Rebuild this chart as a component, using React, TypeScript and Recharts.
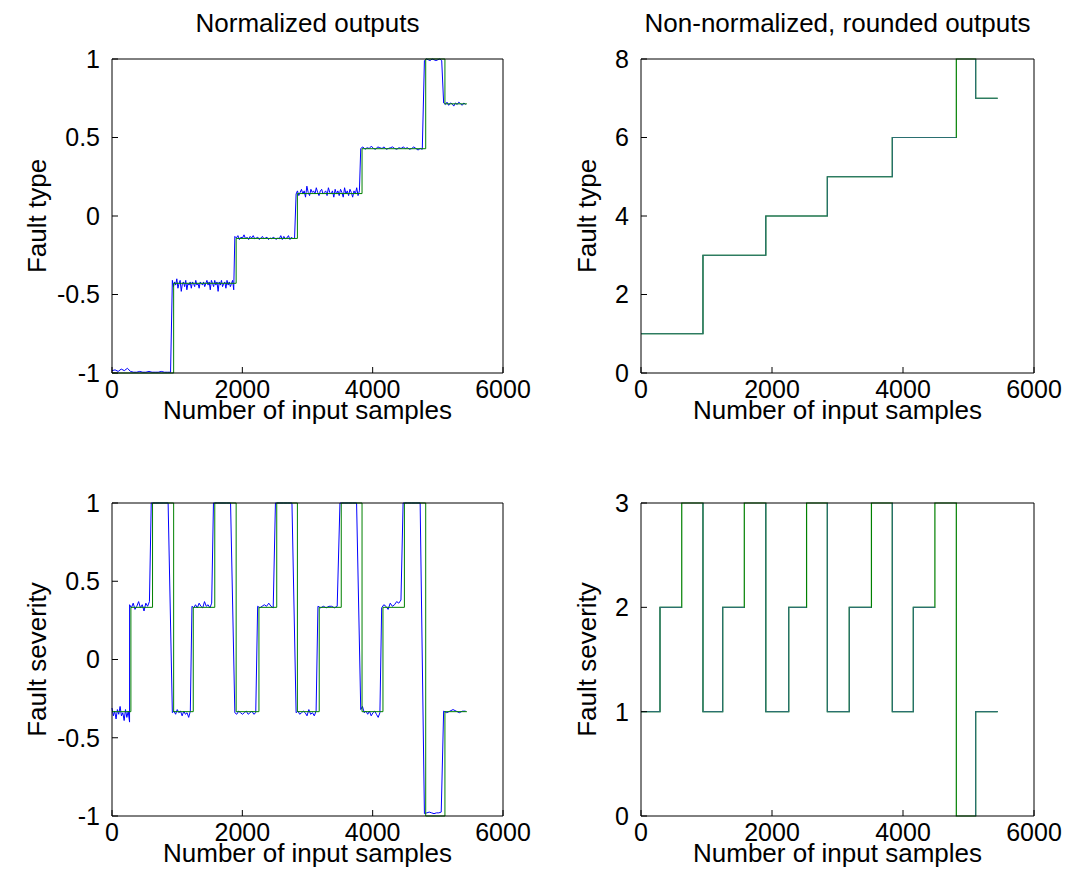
import React from 'react';
import { LineChart, Line, XAxis, YAxis } from 'recharts';

const FONT = '"Liberation Sans", Arial, Helvetica, sans-serif';

const xTicks = [0, 2000, 4000, 6000];
const normTicks = [-1, -0.5, 0, 0.5, 1];
const typeTicks = [0, 2, 4, 6, 8];
const severityTicks = [0, 1, 2, 3];

// fault type: segment boundaries (sample index) and class per segment
const typeBounds = [0, 946, 1905, 2845, 3837, 4814, 5109, 5446];
const typeTarget = [1, 3, 4, 5, 6, 8, 7];
const typeTargetNorm = [-1, -0.4286, -0.1429, 0.1429, 0.4286, 1, 0.7143];
const typeRounded = [1, 3, 4, 5, 6, 8, 7];

// network output (normalized), sampled along each segment
const typeOut = [
  [-0.985, -0.98, -0.99, -0.975, -0.985, -0.97, -0.99, -0.995, -0.995, -0.99, -0.995, -0.995, -0.99, -0.995, -0.995, -0.995, -0.99, -0.995, -0.995, -0.995],
  [-0.41, -0.45, -0.42, -0.44, -0.4, -0.46, -0.43, -0.41, -0.48, -0.43, -0.42, -0.45, -0.41, -0.47, -0.43, -0.44, -0.42, -0.46, -0.42, -0.43, -0.45, -0.41, -0.44, -0.43, -0.46, -0.42, -0.43, -0.44, -0.42, -0.45, -0.43, -0.41, -0.44, -0.42, -0.47, -0.41,
   -0.43, -0.45, -0.41, -0.44, -0.42, -0.48, -0.42, -0.44, -0.41, -0.45, -0.43, -0.42, -0.46, -0.41, -0.44, -0.42, -0.45, -0.43, -0.41, -0.47],
  [-0.13, -0.14, -0.125, -0.15, -0.135, -0.14, -0.12, -0.145, -0.135, -0.15, -0.13, -0.14, -0.125, -0.145, -0.14, -0.135, -0.15, -0.14, -0.13, -0.145, -0.14, -0.135, -0.15, -0.14, -0.145, -0.135, -0.14, -0.15, -0.14, -0.145,
   -0.125, -0.15, -0.13, -0.145, -0.14, -0.125, -0.15, -0.135, -0.145, -0.14],
  [0.14, 0.16, 0.13, 0.15, 0.17, 0.14, 0.16, 0.12, 0.19, 0.15, 0.13, 0.17, 0.15, 0.16, 0.14, 0.18, 0.15, 0.13, 0.16, 0.17, 0.14, 0.15, 0.16, 0.13, 0.18, 0.15, 0.14, 0.16, 0.12, 0.17, 0.14, 0.16,
   0.13, 0.17, 0.15, 0.12, 0.18, 0.14, 0.16, 0.13, 0.17, 0.15, 0.12, 0.16, 0.14, 0.18, 0.13, 0.16],
  [0.43, 0.44, 0.425, 0.435, 0.43, 0.445, 0.43, 0.425, 0.44, 0.435, 0.43, 0.44, 0.425, 0.43, 0.435, 0.44, 0.43, 0.425, 0.435, 0.43, 0.44, 0.43, 0.435, 0.425, 0.43, 0.44, 0.43, 0.42, 0.43, 0.425],
  [0.99, 1, 0.995, 0.99, 1, 0.995, 0.99, 0.995, 1, 0.99],
  [0.72, 0.71, 0.725, 0.705, 0.72, 0.715, 0.7, 0.72, 0.71, 0.725, 0.715, 0.705, 0.72, 0.71],
];

// fault severity
const sevBounds = [0, 290, 622, 946, 1247, 1577, 1905, 2255, 2528, 2845, 3180, 3518, 3837, 4158, 4487, 4814, 5109, 5446];
const sevTarget = [1, 2, 3, 1, 2, 3, 1, 2, 3, 1, 2, 3, 1, 2, 3, 0, 1];
const sevTargetNorm = [-0.3333, 0.3333, 1, -0.3333, 0.3333, 1, -0.3333, 0.3333, 1, -0.3333, 0.3333, 1, -0.3333, 0.3333, 1, -1, -0.3333];
const sevRounded = [1, 2, 3, 1, 2, 3, 1, 2, 3, 1, 2, 3, 1, 2, 3, 0, 1];

const sevOut = [
  [-0.31, -0.36, -0.33, -0.38, -0.32, -0.35, -0.3, -0.36, -0.34, -0.39, -0.32, -0.37, -0.33, -0.4],
  [0.35, 0.33, 0.36, 0.32, 0.34, 0.37, 0.33, 0.35, 0.31, 0.36, 0.34, 0.37],
  [1, 1, 1, 1, 1],
  [-0.34, -0.33, -0.35, -0.32, -0.34, -0.33, -0.36, -0.33, -0.35, -0.34, -0.37, -0.33],
  [0.34, 0.33, 0.35, 0.33, 0.36, 0.34, 0.33, 0.37, 0.34, 0.35, 0.33, 0.36],
  [1, 1, 1, 1, 1],
  [-0.34, -0.35, -0.33, -0.34, -0.35, -0.34, -0.33, -0.35, -0.34, -0.33, -0.35, -0.34],
  [0.34, 0.33, 0.34, 0.35, 0.34, 0.36, 0.34, 0.33],
  [1, 1, 1, 1, 1],
  [-0.34, -0.33, -0.35, -0.34, -0.33, -0.34, -0.36, -0.32, -0.35, -0.34, -0.36, -0.33],
  [0.34, 0.33, 0.34, 0.33, 0.34, 0.34, 0.33, 0.34],
  [1, 1, 1, 1, 1],
  [-0.32, -0.3, -0.34, -0.33, -0.35, -0.33, -0.36, -0.34, -0.33, -0.35, -0.37, -0.34],
  [0.33, 0.35, 0.34, 0.32, 0.36, 0.34, 0.35, 0.37, 0.36, 0.38],
  [1, 1, 1, 1, 1],
  [-0.985, -0.98, -0.975, -0.98, -0.985, -0.98, -0.98, -0.975],
  [-0.33, -0.34, -0.33, -0.32, -0.33, -0.34, -0.33, -0.33],
];

const GREEN = '#008000';
const BLUE = '#0000ff';
const TEAL = '#2a6f70';

type Pt = { x: number; y: number | null };

const stepLine = (bounds: number[], levels: number[]): Pt[] =>
  levels.flatMap((v, i) => [
    { x: bounds[i], y: v },
    { x: bounds[i + 1], y: v },
  ]);

// rounded output: lies on the target; where the level sits on the frame only the drop away from it shows
const roundedLine = (bounds: number[], levels: number[], lo: number, hi: number): Pt[] =>
  levels.flatMap((v, i) =>
    v <= lo || v >= hi
      ? [
          { x: bounds[i], y: null },
          { x: bounds[i + 1], y: v },
        ]
      : [
          { x: bounds[i], y: v },
          { x: bounds[i + 1], y: v },
        ]
  );

// the net output switches a few samples ahead of the target
const LEAD = 20;
const sampledLine = (bounds: number[], segs: number[][]): Pt[] =>
  segs.flatMap((vals, i) => {
    const a = bounds[i];
    const b = bounds[i + 1];
    const last = i === segs.length - 1;
    const step = (b - a) / (last ? vals.length - 1 : vals.length);
    return vals.map((v, j) => ({ x: Math.max(0, a - (i === 0 ? 0 : LEAD) + j * step), y: v }));
  });

const axisStyle = { stroke: '#000', strokeWidth: 1 };
const tickStyle = { fill: '#000', fontSize: 25, fontFamily: FONT };
const noLabel = () => <g />;

const Y_AXIS_W = 70;
const PAD_TOP = 30;
const PAD_RIGHT = 45;
const X_AXIS_H = 50;

interface PanelProps {
  plotLeft: number;
  plotTop: number;
  plotW: number;
  plotH: number;
  yDomain: [number, number];
  yTicks: number[];
  series: { data: Pt[]; color: string; width?: number }[];
}

const Panel: React.FC<PanelProps> = ({ plotLeft, plotTop, plotW, plotH, yDomain, yTicks, series }) => (
  <div style={{ position: 'absolute', left: plotLeft - Y_AXIS_W, top: plotTop - PAD_TOP }}>
    <LineChart
      width={Y_AXIS_W + plotW + PAD_RIGHT}
      height={PAD_TOP + plotH + X_AXIS_H}
      margin={{ top: PAD_TOP - 1, right: PAD_RIGHT - 1, bottom: 0, left: 0 }}
    >
      <XAxis
        dataKey="x"
        type="number"
        domain={[0, 6000]}
        ticks={xTicks}
        interval={0}
        height={X_AXIS_H}
        tickSize={-6}
        tickMargin={13}
        tick={tickStyle}
        axisLine={axisStyle}
        tickLine={axisStyle}
      />
      <XAxis
        xAxisId="top"
        orientation="top"
        dataKey="x"
        type="number"
        domain={[0, 6000]}
        ticks={xTicks}
        interval={0}
        height={1}
        tickSize={-6}
        tick={noLabel}
        axisLine={axisStyle}
        tickLine={axisStyle}
      />
      <YAxis
        type="number"
        domain={yDomain}
        ticks={yTicks}
        interval={0}
        width={Y_AXIS_W}
        tickSize={-6}
        tickMargin={18}
        tick={tickStyle}
        axisLine={axisStyle}
        tickLine={axisStyle}
      />
      <YAxis
        yAxisId="right"
        orientation="right"
        type="number"
        domain={yDomain}
        ticks={yTicks}
        interval={0}
        width={1}
        tickSize={-6}
        tick={noLabel}
        axisLine={axisStyle}
        tickLine={axisStyle}
      />
      {series.map((s, i) => (
        <Line
          key={i}
          data={s.data}
          dataKey="y"
          type="linear"
          stroke={s.color}
          strokeWidth={s.width ?? 1}
          dot={false}
          activeDot={false}
          connectNulls={false}
          isAnimationActive={false}
        />
      ))}
    </LineChart>
  </div>
);

const textStyle = { fontFamily: FONT, fontSize: 26, fill: '#000' };

export default function App() {
  return (
    <div style={{ position: 'absolute', left: 0, top: 0, width: 1069, height: 895, background: '#fff' }}>
      <Panel
        plotLeft={112}
        plotTop={59}
        plotW={391}
        plotH={314}
        yDomain={[-1, 1]}
        yTicks={normTicks}
        series={[
          { data: sampledLine(typeBounds, typeOut), color: BLUE },
          { data: stepLine(typeBounds, typeTargetNorm), color: GREEN },
        ]}
      />
      <Panel
        plotLeft={641}
        plotTop={59}
        plotW={393}
        plotH={314}
        yDomain={[0, 8]}
        yTicks={typeTicks}
        series={[
          { data: stepLine(typeBounds, typeTarget), color: GREEN, width: 1.2 },
          { data: roundedLine(typeBounds, typeRounded, 0, 8), color: TEAL, width: 1.2 },
        ]}
      />
      <Panel
        plotLeft={112}
        plotTop={503}
        plotW={391}
        plotH={313}
        yDomain={[-1, 1]}
        yTicks={normTicks}
        series={[
          { data: sampledLine(sevBounds, sevOut), color: BLUE },
          { data: stepLine(sevBounds, sevTargetNorm), color: GREEN },
        ]}
      />
      <Panel
        plotLeft={641}
        plotTop={503}
        plotW={393}
        plotH={313}
        yDomain={[0, 3]}
        yTicks={severityTicks}
        series={[
          { data: stepLine(sevBounds, sevTarget), color: GREEN, width: 1.2 },
          { data: roundedLine(sevBounds, sevRounded, 0, 3), color: TEAL, width: 1.2 },
        ]}
      />
      <svg width={1069} height={895} style={{ position: 'absolute', left: 0, top: 0, pointerEvents: 'none' }}>
        <text x={307.5} y={32} textAnchor="middle" {...textStyle}>Normalized outputs</text>
        <text x={837.5} y={32} textAnchor="middle" {...textStyle}>Non-normalized, rounded outputs</text>
        <text x={307.5} y={419} textAnchor="middle" {...textStyle}>Number of input samples</text>
        <text x={837.5} y={419} textAnchor="middle" {...textStyle}>Number of input samples</text>
        <text x={307.5} y={862} textAnchor="middle" {...textStyle}>Number of input samples</text>
        <text x={837.5} y={862} textAnchor="middle" {...textStyle}>Number of input samples</text>
        <text transform="translate(46 216) rotate(-90)" textAnchor="middle" {...textStyle}>Fault type</text>
        <text transform="translate(596 216) rotate(-90)" textAnchor="middle" {...textStyle}>Fault type</text>
        <text transform="translate(46 659.5) rotate(-90)" textAnchor="middle" {...textStyle}>Fault severity</text>
        <text transform="translate(596 659.5) rotate(-90)" textAnchor="middle" {...textStyle}>Fault severity</text>
      </svg>
    </div>
  );
}
